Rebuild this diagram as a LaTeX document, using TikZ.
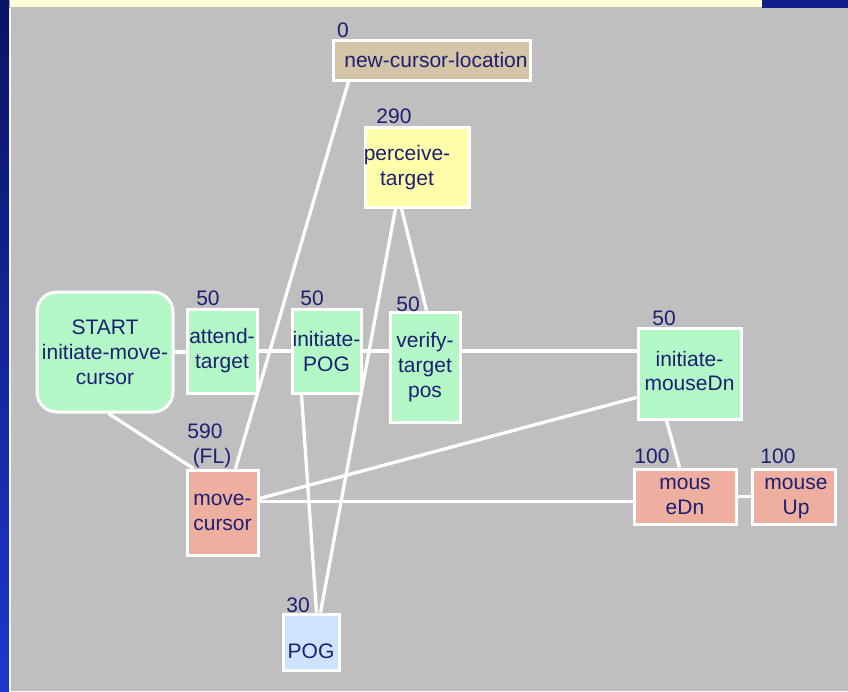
\documentclass[tikz,border=0pt]{standalone}
\usepackage{fontspec}
\setmainfont{Liberation Sans}
\usetikzlibrary{backgrounds,calc}
\definecolor{bggrey}{RGB}{190,191,190}
\definecolor{ink}{RGB}{28,32,112}
\definecolor{opgreen}{RGB}{180,247,199}
\definecolor{optan}{RGB}{212,196,168}
\definecolor{opyellow}{RGB}{255,255,170}
\definecolor{opsalmon}{RGB}{238,174,160}
\definecolor{opblue}{RGB}{204,228,255}
\definecolor{stripyellow}{RGB}{255,255,215}
\definecolor{stripblue}{RGB}{18,30,140}
\begin{document}
\begin{tikzpicture}[x=1pt,y=-1pt,
  box/.style={draw=white, line width=3pt, inner sep=0pt, align=center,
              text=ink, font=\fontsize{21}{25}\selectfont},
  txt/.style={text=ink, inner sep=0pt, align=center, font=\fontsize{21}{25}\selectfont},
  num/.style={text=ink, inner sep=0pt, font=\fontsize{21}{25}\selectfont},
  link/.style={draw=white, line width=3.3pt}]

% backdrop
\begin{pgfonlayer}{background}
  \fill[bggrey] (0,0) rectangle (848,691);
  \shade[top color={rgb,255:red,10;green,20;blue,100}, bottom color={rgb,255:red,30;green,55;blue,205}]
    (0,0) rectangle (9,691);
  \fill[white!85!bggrey] (9,8) rectangle (10.5,691);
  \fill[stripyellow] (10,0) rectangle (762,7);
  \fill[stripblue] (762,0) rectangle (848,8);
\end{pgfonlayer}
\useasboundingbox (0,0) rectangle (848,691);

% operators
\node[box, fill=optan, minimum width=197pt, minimum height=40pt] (ncl) at (431.5,60) {\hspace*{9pt}new-cursor-location};
\node[box, fill=opyellow, minimum width=104pt, minimum height=80pt] (perceive) at (417,167) {};
\node[txt] (perceivetxt) at (407,168) {perceive-\\target};
\node[box, fill=opgreen, rounded corners=20pt, minimum width=136pt, minimum height=120pt] (start) at (105,352) {START\\initiate-move-\\cursor};
\node[box, fill=opgreen, minimum width=70pt, minimum height=84pt] (attend) at (222,351) {attend-\\target};
\node[box, fill=opgreen, minimum width=69pt, minimum height=84pt] (initpog) at (326.5,351) {initiate-\\POG};
\node[box, fill=opgreen, minimum width=70pt, minimum height=110pt] (verify) at (425,367) {verify-\\target\\pos};
\node[box, fill=opgreen, minimum width=103pt, minimum height=91pt] (initmd) at (689.5,373.5) {\raisebox{-3pt}{\begin{tabular}{@{}c@{}}initiate-\\[-1pt]mouseDn\end{tabular}}};
\node[box, fill=opsalmon, minimum width=102pt, minimum height=55pt] (mousedn) at (685,496.5) {mous\\eDn};
\node[box, fill=opsalmon, minimum width=83pt, minimum height=55pt] (mouseup) at (793.5,496.5) {};
\node[txt] (mouseuptxt) at (796,499) {mouse\\Up};
\node[box, fill=opsalmon, minimum width=71pt, minimum height=85pt] (move) at (222.5,512.5) {move-\\cursor};
\node[box, fill=opblue, minimum width=56pt, minimum height=56pt] (pog) at (311,642) {};
\node[txt] (pogtxt) at (311,651) {POG};

% durations
\node[num] (d0) at (343,30) {0};
\node[num] (d290) at (394,116) {290};
\node[num] (d50a) at (208,298) {50};
\node[num] (d50b) at (312,298) {50};
\node[num] (d50c) at (408,304) {50};
\node[num] (d50d) at (664,318) {50};
\node[num] (d100a) at (652,456) {100};
\node[num] (d100b) at (778,456) {100};
\node[num] (d590) at (205,431) {590};
\node[num] (dfl) at (212,458) {(FL)};
\node[num] (d30) at (298,605) {30};

% dependencies
\begin{pgfonlayer}{background}
  \draw[link] (start.east) -- (attend.west |- start.east);
  \draw[link] (attend) -- (initpog);
  \draw[link] (initpog.east) -- (initpog.east -| verify.west);
  \draw[link] (verify.east |- initpog.east) -- (initmd.west |- initpog.east);
  \draw[link] ($(start.south west)+(73,0)$) -- ($(move.north west)+(8,0)$);
  \draw[link] ($(ncl.south west)+(17,0)$) -- ($(move.north west)+(50,0)$);
  \draw[link] ($(perceive.south west)+(38,0)$) -- ($(verify.north west)+(38,0)$);
  \draw[link] ($(perceive.south west)+(32,0)$) -- ($(pog.north west)+(39,0)$);
  \draw[link] ($(initpog.south west)+(11,0)$) -- ($(pog.north west)+(35,0)$);
  \draw[link] ($(initmd.north west)+(0,71)$) -- ($(move.north east)+(0,30)$);
  \draw[link] ($(move.north east)+(0,33)$) -- ($(mousedn.north west)+(0,34)$);
  \draw[link] ($(initmd.south west)+(30,0)$) -- ($(mousedn.north west)+(47,0)$);
  \draw[link] (mousedn) -- (mouseup);
\end{pgfonlayer}
\end{tikzpicture}
\end{document}
